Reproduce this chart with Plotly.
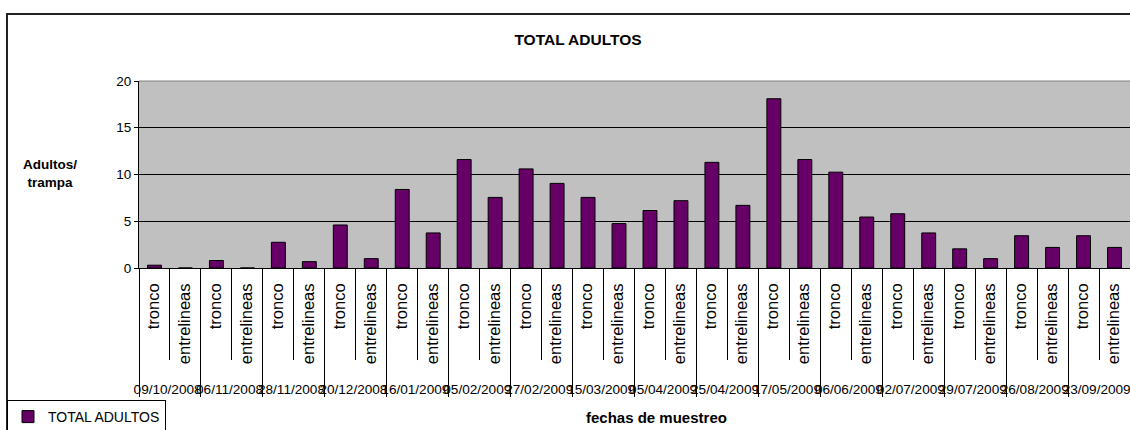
import plotly.graph_objects as go

# Sampling dates (outer category level)
fechas = [
    "09/10/2008", "06/11/2008", "28/11/2008", "20/12/2008",
    "16/01/2009", "05/02/2009", "27/02/2009", "15/03/2009",
    "05/04/2009", "25/04/2009", "17/05/2009", "06/06/2009",
    "02/07/2009", "29/07/2009", "26/08/2009", "23/09/2009",
]
# Trap positions (inner category level)
posiciones = ["tronco", "entrelineas"]

# Adults per trap at each position
tronco = [0.3, 0.8, 2.75, 4.6, 8.4, 11.6, 10.6, 7.55,
          6.15, 11.3, 18.1, 10.25, 5.8, 2.05, 3.45, 3.45]
entrelineas = [0.0, 0.0, 0.68, 1.0, 3.75, 7.55, 9.05, 4.75,
               7.2, 6.7, 11.6, 5.45, 3.75, 1.0, 2.2, 2.2]

y_ticks = [0, 5, 10, 15, 20]

# interleave the two positions for every date; the rotated position
# names are set in a larger type than the date row, with a leading
# blank so the date row sits a little lower
SPACER = "<span style='font-size:43px'>&nbsp;</span>"
outer, inner, valores = [], [], []
for i, f in enumerate(fechas):
    for pos, serie in zip(posiciones, (tronco, entrelineas)):
        outer.append(f)
        inner.append(f"{SPACER}<span style='font-size:16.5px'>{pos}</span>")
        valores.append(serie[i])

W, H = 1130, 430
ML, MR, MT, MB = 139, 0, 81, 162
PW, PH = W - ML - MR, H - MT - MB


def px(x):
    return (x - ML) / PW


def py(y):
    return (H - MB - y) / PH


FONT = "Liberation Sans, Arial, sans-serif"

fig = go.Figure()
fig.add_trace(go.Bar(
    x=[outer, inner],
    y=valores,
    name="TOTAL ADULTOS",
    marker=dict(color="#660066", line=dict(color="black", width=1)),
    hovertemplate="%{x[0]}: %{y}<extra></extra>",
))

fig.update_layout(
    width=W, height=H,
    margin=dict(l=ML, r=MR, t=MT, b=MB, pad=0, autoexpand=False),
    paper_bgcolor="white",
    plot_bgcolor="#C0C0C0",
    bargap=0.55,
    showlegend=True,
    title=dict(
        text="<b>TOTAL ADULTOS</b>",
        font=dict(family=FONT, size=15.5, color="black"),
        x=578 / W, xanchor="center", xref="container",
        y=1 - 40 / H, yanchor="middle", yref="container",
    ),
    legend=dict(
        x=px(7), y=py(400), xanchor="left", yanchor="top",
        bordercolor="black", borderwidth=1, bgcolor="white",
        font=dict(family=FONT, size=14, color="black"),
        itemwidth=30,
    ),
    xaxis=dict(
        type="multicategory", automargin=False,
        showline=True, linecolor="black", linewidth=1,
        ticks="outside", tickson="boundaries", ticklen=91,
        tickcolor="black", tickwidth=1,
        ticklabelstandoff=9,
        tickangle=-90,
        tickfont=dict(family=FONT, size=13.6, color="black"),
        showdividers=True, dividercolor="black", dividerwidth=1,
        showgrid=False,
    ),
    yaxis=dict(
        range=[0, 20], tickvals=y_ticks, automargin=False,
        showline=True, linecolor="black", linewidth=1,
        ticks="outside", ticklen=4, tickcolor="black",
        gridcolor="black", gridwidth=1, zeroline=False,
        tickfont=dict(family=FONT, size=13.5, color="black"),
    ),
    annotations=[
        dict(text="<b>Adultos/<br>trampa</b>", xref="paper", yref="paper",
             x=px(50), y=py(173), xanchor="center", yanchor="middle",
             showarrow=False, align="center",
             font=dict(family=FONT, size=13.5, color="black")),
        dict(text="<b>fechas de muestreo</b>", xref="paper", yref="paper",
             x=px(656), y=py(417), xanchor="center", yanchor="middle",
             showarrow=False,
             font=dict(family=FONT, size=15, color="black")),
    ],
    shapes=[
        # chart frame
        dict(type="rect", xref="paper", yref="paper",
             x0=px(7), x1=px(W + 20), y0=py(H + 20), y1=py(14),
             line=dict(color="#222222", width=2), layer="below"),
        # plot-area top border
        dict(type="line", xref="paper", yref="paper",
             x0=0, x1=1, y0=1, y1=1,
             line=dict(color="#808080", width=1), layer="above"),
    ],
)

fig.write_html("out.html")
